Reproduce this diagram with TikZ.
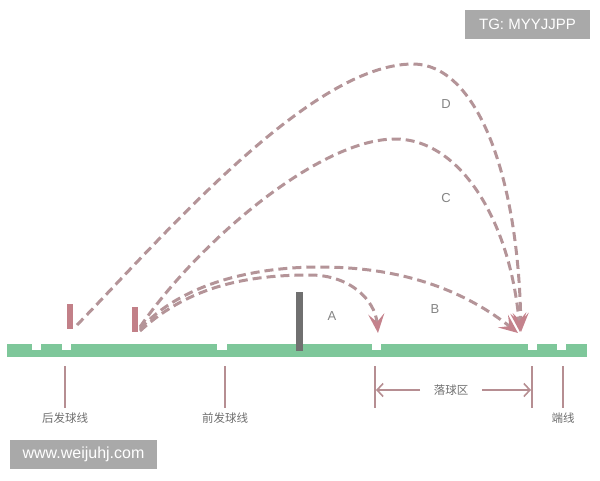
\documentclass[tikz,border=0pt]{standalone}
\usepackage{fontspec}
\setmainfont{Liberation Sans}
\newfontfamily\cjk{Noto Sans CJK SC}
\usetikzlibrary{arrows.meta}
\definecolor{courtgreen}{RGB}{126,199,154}
\definecolor{pathcol}{RGB}{180,148,152}
\definecolor{tipcol}{RGB}{196,130,140}
\definecolor{markcol}{RGB}{194,128,136}
\definecolor{linecol}{RGB}{182,142,146}
\definecolor{netcol}{RGB}{112,112,112}
\definecolor{txtcol}{RGB}{110,110,110}
\definecolor{wmbox}{RGB}{169,169,169}
\tikzset{
  traj/.style={draw=pathcol, line width=3pt, dash pattern=on 9pt off 5pt,
    -{Stealth[length=19pt,width=16pt,inset=8pt,color=tipcol]}},
  refline/.style={draw=linecol, line width=1.8pt},
  dimarrow/.style={draw=linecol, line width=1.6pt, -{Straight Barb[length=6pt,width=13pt]}},
  cnlabel/.style={font=\cjk\fontsize{11.5}{13}\selectfont, text=txtcol, inner sep=0pt},
  letter/.style={font=\fontsize{13}{15}\selectfont, text=txtcol!85, inner sep=0pt},
  wm/.style={fill=wmbox, text=white, inner sep=0pt, font=\fontsize{15}{17}\selectfont}
}
\begin{document}
\begin{tikzpicture}[x=1pt,y=-1pt]
\useasboundingbox (0,0) rectangle (600,480);
% court
\fill[courtgreen] (7,344) rectangle (587,357);
\foreach \a/\b in {32/41, 62/71, 217/227, 372/381, 528/537, 557/566}
  \fill[white] (\a,343.5) rectangle (\b,350);
% net
\node[fill=netcol, draw=none, minimum width=7pt, minimum height=59pt, inner sep=0pt] (net) at (299.5,321.5) {};
% players
\node[fill=markcol, draw=none, minimum width=6pt, minimum height=25pt, inner sep=0pt] (p1) at (70,316.5) {};
\node[fill=markcol, draw=none, minimum width=6pt, minimum height=25pt, inner sep=0pt] (p2) at (135,319.5) {};
% start / landing points
\coordinate (sD) at (77,325);
\coordinate (sC) at (140,327);
\coordinate (sB) at (140,329);
\coordinate (sA) at (140,331);
\coordinate (eD) at (521,332);
\coordinate (eC) at (520,332);
\coordinate (eB) at (518,333);
\coordinate (eA) at (378,333);
% trajectories
\draw[traj] (sD) .. controls (160,240) and (310,64) .. (413,64)
  .. controls (475,64) and (518,170) .. (eD);
\draw[traj] (sC) .. controls (200,240) and (320,139) .. (395,139)
  .. controls (460,139) and (510,220) .. (eC);
\draw[traj] (sB) .. controls (180,285) and (250,267) .. (320,267)
  .. controls (410,267) and (470,295) .. (eB);
\draw[traj] (sA) .. controls (190,285) and (250,275) .. (310,275)
  .. controls (350,275) and (375,300) .. (eA);
% trajectory letters
\node[letter] (lD) at (446,104) {D};
\node[letter] (lC) at (446,198) {C};
\node[letter] (lB) at (435,309) {B};
\node[letter] (lA) at (332,316) {A};
% reference lines
\coordinate (r1t) at (65,366); \coordinate (r1b) at (65,408);
\coordinate (r2t) at (225,366); \coordinate (r2b) at (225,408);
\coordinate (r3t) at (375,366); \coordinate (r3b) at (375,408);
\coordinate (r4t) at (532,366); \coordinate (r4b) at (532,408);
\coordinate (r5t) at (563,366); \coordinate (r5b) at (563,408);
\draw[refline] (r1t) -- (r1b);
\draw[refline] (r2t) -- (r2b);
\draw[refline] (r3t) -- (r3b);
\draw[refline] (r4t) -- (r4b);
\draw[refline] (r5t) -- (r5b);
% landing zone dimension
\node[cnlabel] (zone) at (451,390) {落球区};
\coordinate (zl) at (376,390);
\coordinate (zr) at (531,390);
\draw[dimarrow] ([xshift=-31pt]zone.center) -- (zl);
\draw[dimarrow] ([xshift=31pt]zone.center) -- (zr);
% labels
\node[cnlabel] (l1) at (65,418) {后发球线};
\node[cnlabel] (l2) at (225,418) {前发球线};
\node[cnlabel] (l5) at (563,418) {端线};
% watermarks
\node[wm, minimum width=125pt, minimum height=29pt] (wm1) at (527.5,24.5) {TG: MYYJJPP};
\node[wm, minimum width=147pt, minimum height=29pt, font=\fontsize{16}{18}\selectfont] (wm2) at (83.5,454.5) {www.weijuhj.com};
\end{tikzpicture}
\end{document}
